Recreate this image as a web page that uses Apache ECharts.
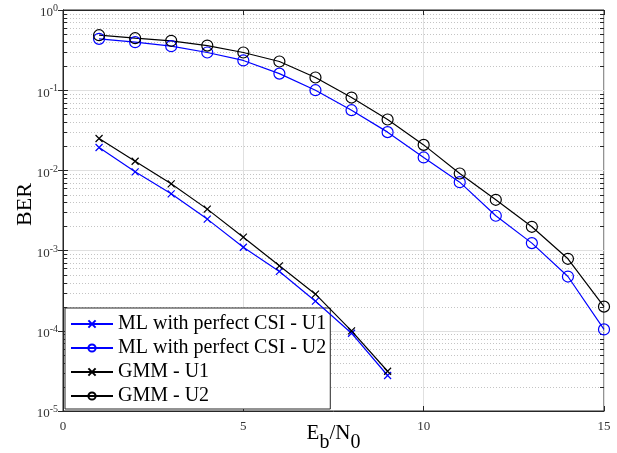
<!DOCTYPE html>
<html><head><meta charset="utf-8">
<script src="https://cdn.jsdelivr.net/npm/echarts@6/dist/echarts.min.js"></script>
<style>html,body{margin:0;padding:0;background:#fff}#c{width:617px;height:453px}</style>
</head><body><div id="c"></div>
<script>
const ebn0 = [1,2,3,4,5,6,7,8,9,10,11,12,13,14,15];
const ebn0U1 = [1,2,3,4,5,6,7,8,9];
const mlU1 = [0.0193,0.0096,0.0051,0.00247,0.0011,0.00055,0.000234,0.0000933,0.0000277];
const mlU2 = [0.437,0.397,0.354,0.295,0.235,0.161,0.1,0.0563,0.030,0.0145,0.00713,0.00272,0.00124,0.000475,0.000104];
const gmmU1 = [0.025,0.013,0.0068,0.00329,0.00147,0.000646,0.000286,0.0001,0.0000313];
const gmmU2 = [0.485,0.445,0.413,0.36,0.295,0.228,0.144,0.081,0.0431,0.0208,0.00915,0.0043,0.00198,0.00079,0.0002];
const names = ['ML with perfect CSI - U1','ML with perfect CSI - U2','GMM - U1','GMM - U2'];
const xTicks = [0,5,10,15];
const decades = [-5,-4,-3,-2,-1,0];
const minorVals = [];
for (let d = -5; d < 0; d++) for (let k = 2; k <= 9; k++) minorVals.push(k * Math.pow(10, d));

const serif = '"Liberation Serif","Times New Roman",serif';
const X_SYM = 'path://M0,0L10,10M10,0L0,10';
const BLUE = '#0000ff', BLACK = '#000000';

const chart = echarts.init(document.getElementById('c'), null, {renderer:'canvas'});
const pair = (xs, ys) => xs.map((x,i)=>[x, ys[i]]);

function mkSeries(name, xs, ys, color, isX) {
  return {
    name, type:'line', data: pair(xs, ys), z: 5,
    symbol: isX ? X_SYM : 'circle',
    symbolSize: isX ? 7 : 11,
    showAllSymbol: true,
    lineStyle: {color, width: 1.2},
    itemStyle: {color: isX ? color : 'rgba(0,0,0,0)', borderColor: color, borderWidth: 1.2},
    emphasis: {disabled: true},
    animation: false
  };
}

const option = {
  animation: false,
  grid: {left: 63, right: 13, top: 10, bottom: 42, outerBoundsMode: 'none', containLabel: false,
    show: true, borderColor: '#262626', borderWidth: 1, backgroundColor:'#fff'},
  legend: {
    orient: 'vertical', left: 65, top: 308,
    data: names,
    itemWidth: 42, itemHeight: 9, itemGap: 4,
    padding: [6, 4, 3, 5],
    backgroundColor: '#fff', borderColor: '#262626', borderWidth: 1,
    textStyle: {fontFamily: serif, fontSize: 20, color: '#000', lineHeight: 20},
    selectedMode: false
  },
  xAxis: [{
    type: 'value', min: 0, max: 15, interval: 5,
    axisLine: {show: true, onZero: false, lineStyle: {color: '#262626'}},
    axisTick: {inside: true, length: 5, lineStyle: {color: '#262626'}},
    axisLabel: {fontFamily: serif, fontSize: 13, color: '#333', margin: 9,
      formatter: v => xTicks.includes(v) ? String(v) : ''},
    splitLine: {show: true, lineStyle: {color: '#e0e0e0', width: 1}},
    name: '{a|E}{s|b}{a|/N}{s|0}', nameLocation: 'middle', nameGap: 12, nameMoveOverlap: false,
    nameTextStyle: {rich: {
      a: {fontFamily: serif, fontSize: 21, color: '#000', lineHeight: 24, verticalAlign: 'top'},
      s: {fontFamily: serif, fontSize: 20, color: '#000', lineHeight: 24, verticalAlign: 'top', padding: [10,0,0,0]}
    }}
  },{
    type: 'value', min: 0, max: 15, interval: 5, position: 'top',
    axisLine: {show: true, lineStyle: {color: '#262626'}},
    axisTick: {inside: true, length: 5, lineStyle: {color: '#262626'}},
    axisLabel: {show: false}, splitLine: {show: false}
  }],
  yAxis: [{
    type: 'log', logBase: 10, min: 1e-5, max: 1, interval: 1,
    axisLine: {show: true, onZero: false, lineStyle: {color: '#262626'}},
    axisTick: {inside: true, length: 5, lineStyle: {color: '#262626'}},
    axisLabel: {margin: 5, formatter: v => {
        const e = Math.round(Math.log10(v));
        return decades.includes(e) ? '{b|10}{s|' + e + '}' : '';
      },
      rich: {
        b: {fontFamily: serif, fontSize: 13, color: '#333', lineHeight: 19, verticalAlign: 'bottom'},
        s: {fontFamily: serif, fontSize: 10, color: '#333', lineHeight: 12, verticalAlign: 'top', padding: [3,0,0,0]}
      }},
    splitLine: {show: true, lineStyle: {color: '#e0e0e0', width: 1}},
    name: 'BER', nameLocation: 'middle', nameGap: 27, nameRotate: 90, nameMoveOverlap: false,
    nameTextStyle: {fontFamily: serif, fontSize: 22, color: '#000', padding: [0, 0, 0, 12]}
  },{
    type: 'log', logBase: 10, min: 1e-5, max: 1, interval: 1, position: 'right',
    axisLine: {show: true, lineStyle: {color: '#262626'}},
    axisTick: {inside: true, length: 5, lineStyle: {color: '#262626'}},
    axisLabel: {show: false}, splitLine: {show: false}
  }],
  series: [
    {
      type: 'custom', z: 2, silent: true, xAxisIndex: 0, yAxisIndex: 0,
      data: minorVals.map(v => [0, v]),
      renderItem: (params, api) => {
        const v = api.value(1);
        const p0 = api.coord([0, v]), p1 = api.coord([15, v]);
        const y = Math.round(p0[1]) + 0.5;
        const x0 = Math.round(p0[0]), x1 = Math.round(p1[0]);
        return {type: 'group', children: [
          {type: 'line', shape: {x1: x0 + 1, y1: y, x2: x1 - 1, y2: y}, style: {stroke: '#c4c4c4', lineWidth: 1, lineDash: [1, 2]}},
          {type: 'line', shape: {x1: x0, y1: y, x2: x0 + 4, y2: y}, style: {stroke: '#262626', lineWidth: 1}},
          {type: 'line', shape: {x1: x1 - 4, y1: y, x2: x1, y2: y}, style: {stroke: '#262626', lineWidth: 1}}
        ]};
      }
    },
    mkSeries(names[0], ebn0U1, mlU1, BLUE, true),
    mkSeries(names[1], ebn0, mlU2, BLUE, false),
    mkSeries(names[2], ebn0U1, gmmU1, BLACK, true),
    mkSeries(names[3], ebn0, gmmU2, BLACK, false)
  ]
};
chart.setOption(option);
</script></body></html>
